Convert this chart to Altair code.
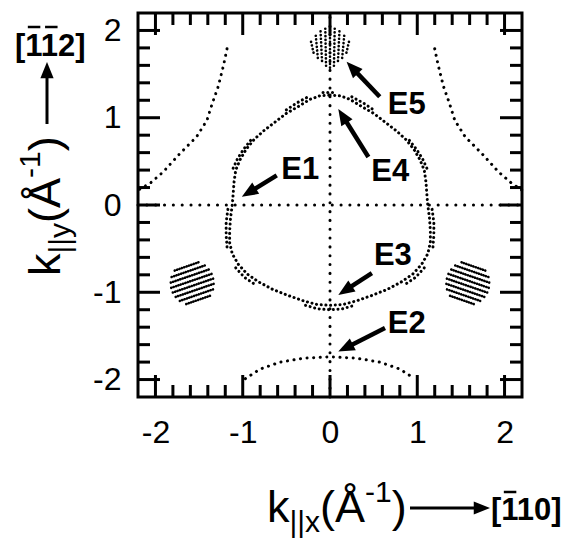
import math
import altair as alt
import pandas as pd

FONT = "Liberation Sans"
W = H = 384                 # plot area in pixels
LIM = 2.2                   # axis half-range in 1/Å
PX = W / (2 * LIM)          # pixels per 1/Å
OX, OY = 138, 13            # plot origin on the page

# ---- axis ticks ----------------------------------------------------------
major_ticks = [-2, -1, 0, 1, 2]
minor_ticks = [-1.8, -1.6, -1.4, -1.2, -0.8, -0.6, -0.4, -0.2,
               0.2, 0.4, 0.6, 0.8, 1.2, 1.4, 1.6, 1.8]

# ---- dotted high-symmetry lines through Gamma ----------------------------
sym_lines = {
    "kx_axis": [(-2.2, 0.0), (2.2, 0.0)],
    "ky_axis": [(0.0, -2.2), (0.0, 2.2)],
}

# ---- central pocket (E1 / E3 / E4), k_x, k_y in 1/Å ----------------------
pocket_main = [
    (0.00, 1.26), (0.12, 1.25), (0.23, 1.21), (0.36, 1.13), (0.50, 1.05),
    (0.63, 0.95), (0.76, 0.85), (0.87, 0.75), (0.96, 0.64), (1.03, 0.52),
    (1.08, 0.40), (1.10, 0.26), (1.11, 0.12), (1.12, 0.00), (1.14, -0.15),
    (1.15, -0.30), (1.15, -0.43), (1.12, -0.56), (1.05, -0.68), (0.95, -0.79),
    (0.82, -0.88), (0.65, -0.97), (0.47, -1.04), (0.30, -1.10), (0.15, -1.14),
    (0.00, -1.15), (-0.15, -1.14), (-0.30, -1.10), (-0.47, -1.04), (-0.65, -0.97),
    (-0.82, -0.88), (-0.95, -0.79), (-1.05, -0.68), (-1.12, -0.56), (-1.15, -0.43),
    (-1.15, -0.30), (-1.14, -0.15), (-1.12, 0.00), (-1.11, 0.12), (-1.10, 0.26),
    (-1.08, 0.40), (-1.03, 0.52), (-0.96, 0.64), (-0.87, 0.75), (-0.76, 0.85),
    (-0.63, 0.95), (-0.50, 1.05), (-0.36, 1.13), (-0.23, 1.21), (-0.12, 1.25),
    (0.00, 1.26),
]
pocket_outer = {
    "top_l": [(-0.50, 1.09), (-0.38, 1.17), (-0.25, 1.24)],
    "top_r": [(0.25, 1.24), (0.38, 1.17), (0.50, 1.09)],
    "top_c": [(-0.08, 1.29), (0.08, 1.29)],
    "up_r": [(0.91, 0.74), (0.99, 0.64), (1.06, 0.53), (1.11, 0.42)],
    "up_l": [(-0.91, 0.74), (-0.99, 0.64), (-1.06, 0.53), (-1.11, 0.42)],
    "side_r": [(1.17, -0.05), (1.19, -0.20), (1.19, -0.35), (1.18, -0.48)],
    "side_l": [(-1.17, -0.05), (-1.19, -0.20), (-1.19, -0.35), (-1.18, -0.48)],
    "low_r": [(1.08, -0.72), (0.98, -0.83), (0.86, -0.91)],
    "low_l": [(-1.08, -0.72), (-0.98, -0.83), (-0.86, -0.91)],
    "bottom": [(-0.28, -1.15), (-0.14, -1.19), (0.00, -1.20), (0.14, -1.19), (0.28, -1.15)],
}

# ---- outer branches -------------------------------------------------------
outer_branches = {
    "left": [(-1.18, 1.79), (-1.22, 1.60), (-1.28, 1.36), (-1.35, 1.16), (-1.41, 0.97),
             (-1.53, 0.78), (-1.72, 0.59), (-1.91, 0.38), (-2.06, 0.25), (-2.20, 0.17)],
    "right": [(1.20, 1.79), (1.24, 1.60), (1.30, 1.36), (1.37, 1.16), (1.43, 0.97),
              (1.55, 0.78), (1.74, 0.59), (1.93, 0.38), (2.08, 0.25), (2.20, 0.17)],
    "e2": [(-0.97, -1.99), (-0.80, -1.88), (-0.57, -1.80), (-0.30, -1.755), (0.00, -1.74),
           (0.30, -1.755), (0.57, -1.80), (0.80, -1.88), (0.97, -1.99)],
}

# ---- densely sampled patches (E5 fan and the two side disks) -------------
fan_e5 = {
    "f1": [(-0.217, 1.87), (-0.185, 1.73)],
    "f2": [(-0.163, 1.94), (-0.138, 1.67)],
    "f3": [(-0.108, 1.99), (-0.090, 1.62)],
    "f4": [(-0.054, 2.02), (-0.045, 1.59)],
    "f0": [(0.000, 2.04), (0.000, 1.57)],
    "f5": [(0.054, 2.02), (0.045, 1.59)],
    "f6": [(0.108, 1.99), (0.090, 1.62)],
    "f7": [(0.163, 1.94), (0.138, 1.67)],
    "f8": [(0.217, 1.87), (0.185, 1.73)],
}
disk_left = {
    "l1": [(-1.779, -0.751), (-1.503, -0.655)],
    "l2": [(-1.815, -0.825), (-1.429, -0.691)],
    "l3": [(-1.824, -0.889), (-1.382, -0.737)],
    "l4": [(-1.819, -0.949), (-1.349, -0.787)],
    "l5": [(-1.801, -1.003), (-1.331, -0.841)],
    "l6": [(-1.768, -1.053), (-1.326, -0.901)],
    "l7": [(-1.721, -1.099), (-1.335, -0.965)],
    "l8": [(-1.647, -1.135), (-1.371, -1.039)],
}
disk_right = {
    "r1": [(1.779, -0.751), (1.503, -0.655)],
    "r2": [(1.815, -0.825), (1.429, -0.691)],
    "r3": [(1.824, -0.889), (1.382, -0.737)],
    "r4": [(1.819, -0.949), (1.349, -0.787)],
    "r5": [(1.801, -1.003), (1.331, -0.841)],
    "r6": [(1.768, -1.053), (1.326, -0.901)],
    "r7": [(1.721, -1.099), (1.335, -0.965)],
    "r8": [(1.647, -1.135), (1.371, -1.039)],
}

# ---- state labels: name, label position, arrow tail, arrow tip -----------
state_names = ["E1", "E2", "E3", "E4", "E5"]
label_pos = [(-0.34, 0.40), (0.88, -1.36), (0.72, -0.59), (0.69, 0.38), (0.88, 1.145)]
arrow_tail = [(-0.61, 0.34), (0.63, -1.41), (0.48, -0.78), (0.44, 0.55), (0.57, 1.24)]
arrow_tip = [(-1.01, 0.095), (0.095, -1.68), (0.095, -1.03), (0.095, 1.10), (0.19, 1.64)]


def polylines(groups):
    rows = []
    for name, pts in groups.items():
        for i, (x, y) in enumerate(pts):
            rows.append({"seg": name, "i": i, "x": x, "y": y})
    return pd.DataFrame(rows)


xs = alt.Scale(domain=[-LIM, LIM], nice=False, zero=False)
ys = alt.Scale(domain=[-LIM, LIM], nice=False, zero=False)
common_axis = dict(values=major_ticks, labelExpr="'' + datum.value", labelFont=FONT,
                   labelFontSize=32, labelColor="black", ticks=False, tickSize=0,
                   domain=False, grid=False, labelFlush=False, labelOverlap=False)
x_axis = alt.Axis(labelPadding=20, **common_axis)
y_axis = alt.Axis(labelPadding=17, **common_axis)


def X(f="x"):
    return alt.X(f"{f}:Q", scale=xs, axis=x_axis, title=None)


def Y(f="y"):
    return alt.Y(f"{f}:Q", scale=ys, axis=y_axis, title=None)


def dotted(groups, gap, width=3.0):
    return alt.Chart(polylines(groups)).mark_line(
        color="black", strokeWidth=width, strokeCap="round", strokeDash=[0.1, gap]
    ).encode(x=X(), y=Y(), detail="seg:N", order="i:Q")


layers = [
    dotted(sym_lines, 0.1 * PX, 3.0),
    dotted({"main": pocket_main}, 4.6, 3.0),
    dotted(pocket_outer, 4.6, 3.0),
    dotted(outer_branches, 6.5, 3.0),
    dotted(fan_e5, 3.6, 2.6),
    dotted(disk_left, 2.4, 2.6),
    dotted(disk_right, 2.4, 2.6),
]

# ---- inward ticks on all four sides --------------------------------------
TICK_W = 3
for vals, length in ((major_ticks, 22), (minor_ticks, 12)):
    tdf = pd.DataFrame({"v": vals})
    base = alt.Chart(tdf).mark_rule(color="black", strokeWidth=TICK_W)
    layers += [
        base.encode(x=X("v"), y=alt.value(0), y2=alt.value(length)),
        base.encode(x=X("v"), y=alt.value(H), y2=alt.value(H - length)),
        base.encode(y=Y("v"), x=alt.value(0), x2=alt.value(length)),
        base.encode(y=Y("v"), x=alt.value(W), x2=alt.value(W - length)),
    ]

# ---- labelled arrows ------------------------------------------------------
HEAD = "M0,0L-0.55,1.35L0.55,1.35Z"   # tip at origin, pointing up
HEAD_SIZE = 580
HEAD_BACK = 11.0                       # shaft stops this many px before tip
rows = []
for name, (lx, ly), (tx, ty), (hx, hy) in zip(state_names, label_pos, arrow_tail, arrow_tip):
    dx, dy = hx - tx, hy - ty
    n = math.hypot(dx, dy)
    back = HEAD_BACK / PX
    rows.append({
        "name": name, "lx": lx, "ly": ly,
        "x0": tx, "y0": ty,
        "x1": hx - dx / n * back, "y1": hy - dy / n * back,
        "hx": hx, "hy": hy,
        "ang": math.degrees(math.atan2(dx, dy)) % 360,
    })
adf = pd.DataFrame(rows)
layers += [
    alt.Chart(adf).mark_rule(color="black", strokeWidth=4.5).encode(
        x=X("x0"), y=Y("y0"), x2=alt.X2("x1:Q"), y2=alt.Y2("y1:Q")),
    alt.Chart(adf).mark_point(shape=HEAD, filled=True, color="black", opacity=1,
                              size=HEAD_SIZE, strokeWidth=0).encode(
        x=X("hx"), y=Y("hy"), angle=alt.Angle("ang:Q", scale=None)),
    alt.Chart(adf).mark_text(font=FONT, fontSize=31, fontWeight="bold", color="black",
                             align="center", baseline="middle").encode(
        x=X("lx"), y=Y("ly"), text="name:N"),
]

# ---- axis titles with direction arrows -----------------------------------
one = pd.DataFrame({"d": [0]})


def txt(s, xa, ya, size, bold=False, angle=0):
    return alt.Chart(one).mark_text(
        text=s, font=FONT, fontSize=size, fontWeight="bold" if bold else "normal",
        align="left", baseline="alphabetic", angle=angle, color="black"
    ).encode(x=alt.value(xa - OX), y=alt.value(ya - OY))


def seg(x1, y1, x2, y2, w):
    return alt.Chart(one).mark_rule(color="black", strokeWidth=w).encode(
        x=alt.value(x1 - OX), y=alt.value(y1 - OY),
        x2=alt.value(x2 - OX), y2=alt.value(y2 - OY))


def head(xa, ya, angle):
    return alt.Chart(one).mark_point(shape=HEAD, filled=True, color="black", opacity=1,
                                     size=HEAD_SIZE, strokeWidth=0, angle=angle).encode(
        x=alt.value(xa - OX), y=alt.value(ya - OY))


F, S, B = 45, 30, 31        # main, script and direction-label font sizes
adv_k, adv_sub, adv_par, adv_sup = 0.5 * F, 1.02 * S, 1.0 * F, 0.889 * S

# horizontal title: k_||x (Å^-1) ----> [-110]
x0, base = 267, 522
layers += [
    txt("k", x0, base, F),
    txt("||x", x0 + adv_k, base + 10, S),
    txt("(Å", x0 + adv_k + adv_sub, base, F),
    txt("-1", x0 + adv_k + adv_sub + adv_par, base - 20, S),
    txt(")", x0 + adv_k + adv_sub + adv_par + adv_sup, base, F),
    seg(410, 508, 482, 508, 3),
    head(490, 508, 90),
    txt("[110]", 491, 520, B, bold=True),
    seg(491 + 0.333 * B + 2.5, 520 - 28, 491 + 0.333 * B + 15, 520 - 28, 2.5),
]

# vertical title: k_||y (Å^-1), rotated, with arrow up to [-1-12]
yb, ystart = 60, 276
layers += [
    txt("k", yb, ystart, F, angle=270),
    txt("||y", yb + 10, ystart - adv_k, S, angle=270),
    txt("(Å", yb, ystart - adv_k - adv_sub, F, angle=270),
    txt("-1", yb - 20, ystart - adv_k - adv_sub - adv_par, S, angle=270),
    txt(")", yb, ystart - adv_k - adv_sub - adv_par - adv_sup, F, angle=270),
    seg(47, 124, 47, 70, 3),
    head(47, 62, 0),
    txt("[112]", 15, 56, B, bold=True),
    seg(15 + 0.333 * B + 2.5, 56 - 29, 15 + 0.333 * B + 15, 56 - 29, 2.5),
    seg(15 + 0.889 * B + 2.5, 56 - 29, 15 + 0.889 * B + 15, 56 - 29, 2.5),
]

chart = alt.layer(*layers).properties(
    width=W, height=H,
    padding={"left": OX, "top": OY, "right": 571 - OX - W, "bottom": 544 - OY - H},
    autosize=alt.AutoSizeParams(type="none"),
    background="white",
).configure_view(stroke="black", strokeWidth=3)

chart.save("out.html", embed_options={"renderer": "svg", "actions": False})
